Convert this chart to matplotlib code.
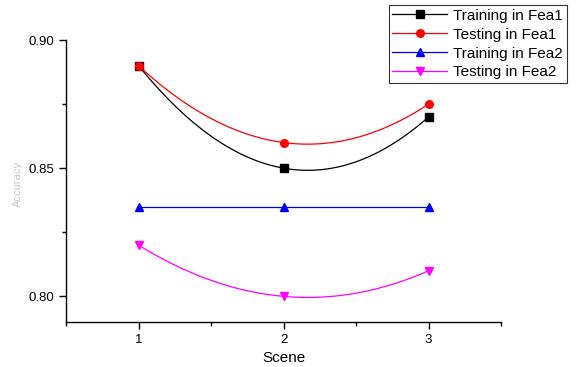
import numpy as np
import matplotlib
matplotlib.use("Agg")
import matplotlib.pyplot as plt

plt.rcParams['font.family'] = ['Liberation Sans', 'DejaVu Sans']

scenes = [1, 2, 3]
train_fea1 = [0.89, 0.85, 0.87]
test_fea1 = [0.89, 0.86, 0.875]
train_fea2 = [0.835, 0.835, 0.835]
test_fea2 = [0.82, 0.80, 0.81]

series = [
    ("Training in Fea1", train_fea1, "black", "s"),
    ("Testing in Fea1", test_fea1, "red", "o"),
    ("Training in Fea2", train_fea2, "blue", "^"),
    ("Testing in Fea2", test_fea2, "#ff00ff", "v"),
]

fig = plt.figure(figsize=(5.76, 3.67), dpi=100)
ax = fig.add_axes([0.1146, 0.1226, 0.870 - 0.1146, 0.891 - 0.1226])

xs = np.linspace(1, 3, 200)
handles = []
for label, ys, color, marker in series:
    coef = np.polyfit(scenes, ys, 2)
    ax.plot(xs, np.polyval(coef, xs), color=color, lw=0.9)
    ax.plot(scenes, ys, linestyle='none', marker=marker, color=color, markersize=5.5)
    h, = ax.plot([], [], color=color, marker=marker, markersize=5.5, lw=0.9, label=label)
    handles.append(h)

ax.set_xlim(0.5, 3.5)
ax.set_ylim(0.79, 0.90)
ax.set_xticks([1, 2, 3])
ax.set_xticks([0.5, 1.5, 2.5, 3.5], minor=True)
ax.set_yticks([0.80, 0.85, 0.90])
ax.set_yticklabels(["0.80", "0.85", "0.90"])
ax.set_yticks([0.825, 0.875], minor=True)
for s in ['top', 'right']:
    ax.spines[s].set_visible(False)
for s in ['left', 'bottom']:
    ax.spines[s].set_linewidth(1.0)
ax.spines['left'].set_bounds(0.79, 0.90)
ax.tick_params(axis='both', which='major', length=5, width=1, labelsize=9.5, direction='out')
ax.tick_params(axis='both', which='minor', length=3, width=1, direction='out')
ax.set_xlabel("Scene", fontsize=11)
fig.text(0.032, 0.5, "Accuracy", rotation=90, color='#c8c8c8', fontsize=8, ha='center', va='center')

leg = fig.legend(handles=handles, loc='upper right', bbox_to_anchor=(567/576, 1 - 5/367),
                 fontsize=11, frameon=True, fancybox=False, edgecolor='black',
                 handlelength=3.6, borderpad=0.25, labelspacing=0.32, handletextpad=0.4,
                 borderaxespad=0)
leg.get_frame().set_linewidth(0.8)

fig.savefig("out.png", dpi=100)
